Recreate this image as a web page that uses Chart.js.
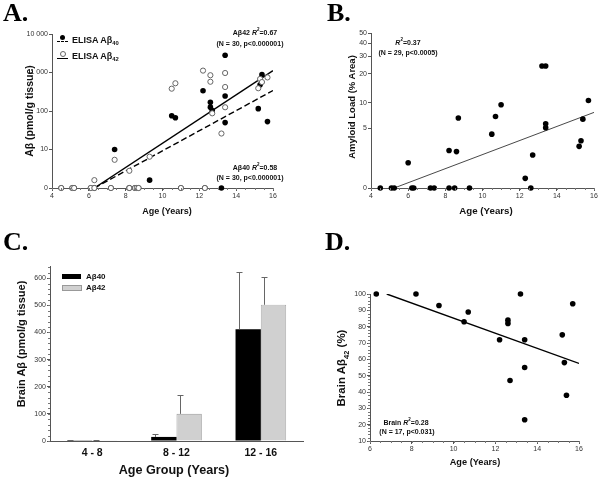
<!DOCTYPE html>
<html lang="en">
<head>
<meta charset="UTF-8" />
<title>Brain Abeta vs age</title>
<script src="https://cdn.jsdelivr.net/npm/chart.js@4"></script>
<style>
  body { margin: 0; background: #fff; }
  #fig { position: relative; width: 601px; height: 480px; overflow: hidden; font-family: 'Liberation Sans', Arial, sans-serif; }
  canvas { position: absolute; }
  .t { position: absolute; white-space: nowrap; font-weight: bold; color: #111; line-height: 1; transform: translate(-50%, -50%); }
  .rot { transform: translate(-50%, -50%) rotate(-90deg); }
  .left { transform: translate(0, -50%); }
  .letter { position: absolute; font-family: 'Liberation Serif', 'Times New Roman', serif; font-weight: bold; font-size: 26px; line-height: 1; color: #000; }
  .note { font-size: 7px; }
  sub, sup { font-size: 65%; line-height: 0; }
  .mk { position: absolute; }
</style>
</head>
<body>
<div id="fig">
  <canvas id="chartA" width="300" height="240" style="left:0;top:0"></canvas>
  <canvas id="chartB" width="301" height="240" style="left:300px;top:0"></canvas>
  <canvas id="chartC" width="310" height="240" style="left:0;top:240px"></canvas>
  <canvas id="chartD" width="301" height="240" style="left:300px;top:240px"></canvas>

  <!-- panel A text -->
  <div class="letter" style="left:3px;top:0">A.</div>
  <div class="t rot" style="left:29px;top:111px;font-size:10.5px">A&beta; (pmol/g tissue)</div>
  <div class="t" style="left:167px;top:211px;font-size:9px">Age (Years)</div>
  <div class="mk" style="left:60px;top:35px;width:5px;height:5px;border-radius:50%;background:#000"></div>
  <div class="mk" style="left:57px;top:41px;width:11px;border-top:1.3px dashed #000"></div>
  <div class="t left" style="left:72px;top:40px;font-size:9px">ELISA A&beta;<sub>40</sub></div>
  <div class="mk" style="left:60px;top:51px;width:4px;height:4px;border-radius:50%;border:1px solid #666;background:#fff"></div>
  <div class="mk" style="left:57px;top:58px;width:11px;border-top:1.3px solid #000"></div>
  <div class="t left" style="left:72px;top:56px;font-size:9px">ELISA A&beta;<sub>42</sub></div>
  <div class="t note" style="left:255px;top:32px">A&beta;42 <i>R</i><sup>2</sup>=0.67</div>
  <div class="t note" style="left:250px;top:43px">(N = 30, p&lt;0.000001)</div>
  <div class="t note" style="left:255px;top:167px">A&beta;40 <i>R</i><sup>2</sup>=0.58</div>
  <div class="t note" style="left:250px;top:177px">(N = 30, p&lt;0.000001)</div>

  <!-- panel B text -->
  <div class="letter" style="left:327px;top:0">B.</div>
  <div class="t rot" style="left:352px;top:107px;font-size:9.5px">Amyloid Load (% Area)</div>
  <div class="t" style="left:486px;top:211px;font-size:9.7px">Age (Years)</div>
  <div class="t note" style="left:408px;top:42px"><i>R</i><sup>2</sup>=0.37</div>
  <div class="t note" style="left:408px;top:52px">(N = 29, p&lt;0.0005)</div>

  <!-- panel C text -->
  <div class="letter" style="left:3px;top:229px">C.</div>
  <div class="t rot" style="left:21px;top:344px;font-size:11px">Brain A&beta; (pmol/g tissue)</div>
  <div class="t" style="left:174px;top:470px;font-size:12.6px">Age Group (Years)</div>
  <div class="mk" style="left:62px;top:274px;width:19px;height:5px;background:#000"></div>
  <div class="t left" style="left:86px;top:277px;font-size:8px">A&beta;40</div>
  <div class="mk" style="left:62px;top:285px;width:18px;height:4px;background:#d0d0d0;border:0.8px solid #999"></div>
  <div class="t left" style="left:86px;top:288px;font-size:8px">A&beta;42</div>

  <!-- panel D text -->
  <div class="letter" style="left:325px;top:229px">D.</div>
  <div class="t rot" style="left:342px;top:368px;font-size:11.5px">Brain A&beta;<sub>42</sub> (%)</div>
  <div class="t" style="left:475px;top:463px;font-size:9.2px">Age (Years)</div>
  <div class="t note" style="left:406px;top:422px">Brain <i>R</i><sup>2</sup>=0.28</div>
  <div class="t note" style="left:407px;top:431px">(N = 17, p&lt;0.031)</div>
</div>

<script>
  // ---- Panel A: ELISA Abeta (pmol/g tissue) by age, same 30 brains for both peptides
  const aAge = [4.5, 5.1, 5.2, 6.1, 6.3, 6.3, 7.2, 7.4, 8.2, 8.2, 8.5, 8.6, 8.7, 9.3, 10.5,
                10.7, 11.0, 12.2, 12.3, 12.6, 12.6, 12.7, 13.2, 13.4, 13.4, 13.4, 15.2, 15.3, 15.4, 15.7];
  const aElisa40 = [0, 0, 0, 0, 0, 0, 0, 10, 0, 0, 0, 0, 0, 1.6, 75,
                    67, 0, 335, 0, 168, 126, 102, 0, 2800, 245, 50, 115, 480, 880, 53];
  const aElisa42 = [0, 0, 0, 0, 0, 1.6, 0, 5.4, 0, 2.8, 0, 0, 0, 6.5, 380,
                    525, 0, 1120, 0, 850, 575, 87, 26, 970, 420, 125, 390, 680, 565, 745];
  const aFitAge = [6.3, 16];
  const aFit40 = [0, 340];
  const aFit42 = [0, 1120];
  const aTicks = [1, 10, 100, 1000, 10000];
  const aTickLabels = ['0', '10', '100', '1 000', '10 000'];

  // ---- Panel B: amyloid load (% area) by age
  const bAge = [4.5, 5.1, 5.25, 6.0, 6.2, 6.3, 7.2, 7.4, 8.2, 8.2, 8.5, 8.6, 8.7, 9.3,
                10.5, 10.7, 11.0, 12.3, 12.6, 12.7, 13.2, 13.4, 13.4, 13.4, 15.2, 15.3, 15.4, 15.7];
  const bLoad = [0, 0, 0, 1.4, 0, 0, 0, 0, 2.4, 0, 0, 2.3, 6.7, 0,
                 4.2, 7.0, 9.5, 0.45, 0, 2.0, 24, 24, 5.7, 5.1, 2.8, 3.4, 6.5, 10.6];
  const bFitAge = [5.25, 16];
  const bFit = [0, 7.8];
  const bTicks = [0, 5, 10, 20, 30, 40, 50];

  // ---- Panel C: mean brain Abeta by age group
  const cGroups = ['4 - 8', '8 - 12', '12 - 16'];
  const cMean40 = [1, 15, 412];
  const cErr40 = [1, 11, 212];
  const cMean42 = [1, 100, 502];
  const cErr42 = [1, 69, 102];

  // ---- Panel D: Abeta42 share of brain Abeta (%)
  const dAge = [6.3, 8.2, 9.3, 10.5, 10.7, 12.2, 12.6, 12.6, 12.7, 13.2, 13.4, 13.4, 13.4, 15.2, 15.3, 15.4, 15.7];
  const dPct = [100, 100, 93, 83, 89, 72, 84, 82, 47, 100, 72, 55, 23, 75, 58, 38, 94];
  const dFitAge = [6.8, 16];
  const dFit = [100, 57.5];

  Chart.defaults.font.family = "'Liberation Sans', Arial, sans-serif";
  Chart.defaults.animation = false;
  Chart.defaults.responsive = false;
  Chart.defaults.plugins.legend.display = false;
  Chart.defaults.plugins.tooltip.enabled = false;

  const tickFont = { size: 7 };
  const axisCol = '#555';

  function pts(xs, ys, f) {
    return xs.map((x, i) => ({ x: x, y: f ? f(ys[i]) : ys[i] }));
  }

  function axis(opts, size, isX) {
    return Object.assign({
      grid: { drawOnChartArea: false, drawTicks: true, tickLength: 3, color: axisCol },
      border: { color: axisCol },
      afterFit: s => { if (isX) s.height = size; else s.width = size; }
    }, opts, {
      ticks: Object.assign({ font: tickFont, color: '#333', padding: 1 }, opts.ticks || {})
    });
  }

  // small minor tick marks along the axes
  const minorTicks = {
    id: 'minorTicks',
    afterDraw(chart, args, o) {
      const ctx = chart.ctx, ca = chart.chartArea;
      ctx.save();
      ctx.strokeStyle = '#777';
      ctx.lineWidth = 1;
      ctx.beginPath();
      (o.x || []).forEach(v => {
        const px = Math.round(chart.scales.x.getPixelForValue(v)) + 0.5;
        ctx.moveTo(px, ca.bottom); ctx.lineTo(px, ca.bottom + 2);
      });
      (o.y || []).forEach(v => {
        const py = Math.round(chart.scales.y.getPixelForValue(v)) + 0.5;
        ctx.moveTo(ca.left, py); ctx.lineTo(ca.left - 2, py);
      });
      ctx.stroke();
      ctx.restore();
    }
  };

  function steps(a, b, s) {
    const out = [];
    for (let v = a; v <= b + 1e-9; v += s) out.push(+v.toFixed(3));
    return out;
  }

  const dot = { pointRadius: 2.8, pointBackgroundColor: '#000', pointBorderColor: '#000', pointBorderWidth: 0, showLine: false, clip: false };

  // ---------- A ----------
  new Chart(document.getElementById('chartA'), {
    type: 'scatter',
    data: {
      datasets: [
        { data: pts(aAge, aElisa42, v => Math.max(v, 1)), pointRadius: 2.6, pointBackgroundColor: '#fff',
          pointBorderColor: '#666', pointBorderWidth: 1, showLine: false, clip: false },
        Object.assign({ data: pts(aAge, aElisa40, v => Math.max(v, 1)) }, dot),
        { data: pts(aFitAge, aFit42, v => Math.max(v, 1)), showLine: true, borderColor: '#000', borderWidth: 1.4, pointRadius: 0 },
        { data: pts(aFitAge, aFit40, v => Math.max(v, 1)), showLine: true, borderColor: '#000', borderWidth: 1.4, borderDash: [6, 3], pointRadius: 0 }
      ]
    },
    options: {
      layout: { padding: { left: 12, right: 27, top: 34, bottom: 32 } },
      scales: {
        x: axis({ type: 'linear', min: 4, max: 16, ticks: { stepSize: 2 } }, 20, true),
        y: axis({ type: 'logarithmic', min: 1, max: 10000,
          afterBuildTicks: s => { s.ticks = aTicks.map(v => ({ value: v })); },
          ticks: { callback: (v, i) => aTickLabels[i] } }, 40, false)
      },
      plugins: { minorTicks: { x: steps(4, 16, 0.5) } }
    },
    plugins: [minorTicks]
  });

  // ---------- B ----------
  const bT = v => Math.log10(v + 2) - Math.log10(2);
  new Chart(document.getElementById('chartB'), {
    type: 'scatter',
    data: {
      datasets: [
        Object.assign({ data: pts(bAge, bLoad, bT) }, dot),
        { data: pts(bFitAge, bFit, bT), showLine: true, borderColor: '#333', borderWidth: 0.9, pointRadius: 0 }
      ]
    },
    options: {
      layout: { padding: { left: 31, right: 7, top: 33, bottom: 32 } },
      scales: {
        x: axis({ type: 'linear', min: 4, max: 16, ticks: { stepSize: 2 } }, 20, true),
        y: axis({ type: 'linear', min: 0, max: bT(50),
          afterBuildTicks: s => { s.ticks = bTicks.map(v => ({ value: bT(v) })); },
          ticks: { callback: (v, i) => String(bTicks[i]) } }, 40, false)
      },
      plugins: { minorTicks: { x: steps(4, 16, 0.5) } }
    },
    plugins: [minorTicks]
  });

  // ---------- C ----------
  const errorBars = {
    id: 'errorBars',
    afterDatasetsDraw(chart) {
      const ctx = chart.ctx, y = chart.scales.y;
      ctx.save();
      ctx.strokeStyle = '#666';
      ctx.lineWidth = 1;
      chart.data.datasets.forEach((ds, di) => {
        chart.getDatasetMeta(di).data.forEach((bar, i) => {
          const top = Math.round(y.getPixelForValue(ds.data[i] + ds.errors[i])) + 0.5;
          const x = Math.round(bar.x - bar.width / 2 + 3.5) + 0.5;
          ctx.beginPath();
          ctx.moveTo(x, bar.y); ctx.lineTo(x, top);
          ctx.moveTo(x - 3, top); ctx.lineTo(x + 3, top);
          ctx.stroke();
        });
      });
      ctx.restore();
    }
  };

  new Chart(document.getElementById('chartC'), {
    type: 'bar',
    data: {
      labels: cGroups,
      datasets: [
        { data: cMean40, errors: cErr40, backgroundColor: '#000', borderWidth: 0 },
        { data: cMean42, errors: cErr42, backgroundColor: '#d0d0d0', borderColor: '#999', borderWidth: 0.8 }
      ]
    },
    options: {
      categoryPercentage: 0.6,
      barPercentage: 1.0,
      layout: { padding: { left: 10, right: 7, top: 26, bottom: 19 } },
      scales: {
        x: axis({ grid: { drawOnChartArea: false, drawTicks: false, color: axisCol },
          ticks: { font: { size: 10.5, weight: 'bold' }, color: '#111', padding: 6 } }, 20, true),
        y: axis({ min: 0, max: 645, ticks: { stepSize: 100 },
          afterBuildTicks: s => { s.ticks = s.ticks.filter(t => t.value % 100 === 0); } }, 40, false)
      },
      plugins: { minorTicks: { y: steps(0, 640, 20) } }
    },
    plugins: [errorBars, minorTicks]
  });

  // ---------- D ----------
  new Chart(document.getElementById('chartD'), {
    type: 'scatter',
    data: {
      datasets: [
        Object.assign({ data: pts(dAge, dPct) }, dot),
        { data: pts(dFitAge, dFit), showLine: true, borderColor: '#000', borderWidth: 1.4, pointRadius: 0 }
      ]
    },
    options: {
      layout: { padding: { left: 30, right: 22, top: 54, bottom: 19 } },
      scales: {
        x: axis({ type: 'linear', min: 6, max: 16, ticks: { stepSize: 2 } }, 20, true),
        y: axis({ type: 'linear', min: 10, max: 100, ticks: { stepSize: 10 } }, 40, false)
      },
      plugins: { minorTicks: { x: steps(6, 16, 0.5), y: steps(10, 100, 2) } }
    },
    plugins: [minorTicks]
  });
</script>
</body>
</html>
